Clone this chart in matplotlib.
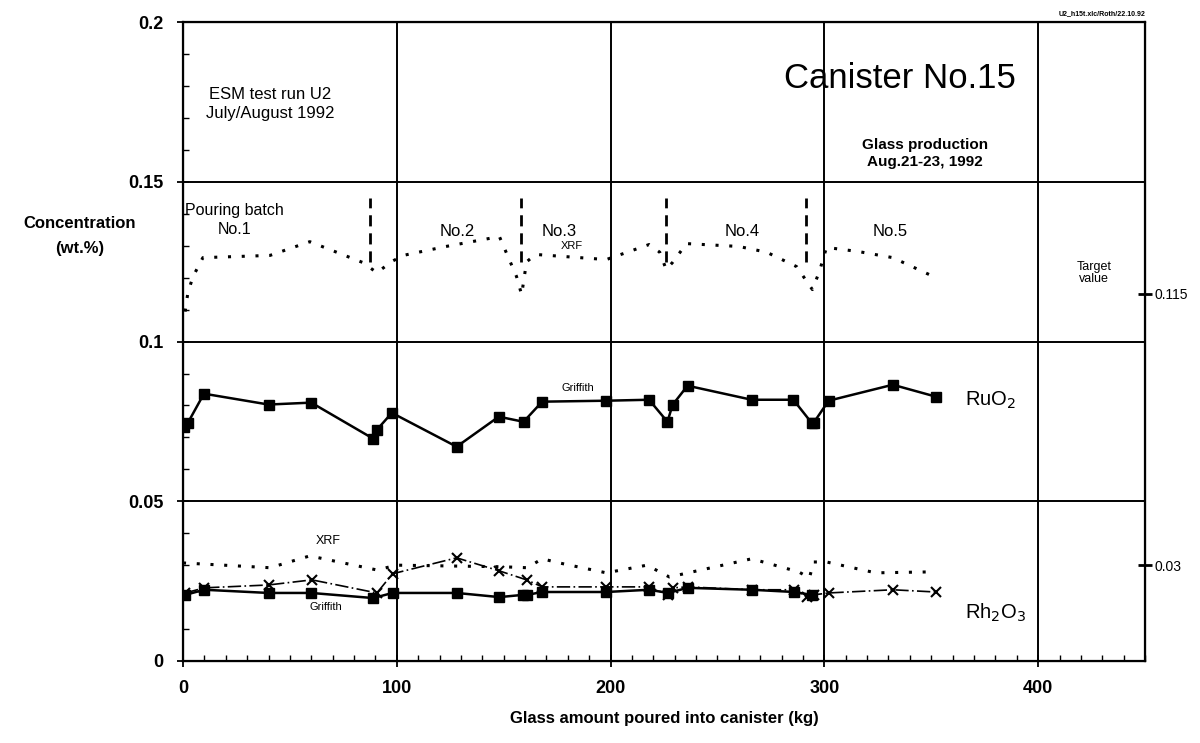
import matplotlib
matplotlib.use('Agg')
import matplotlib.pyplot as plt
from matplotlib.ticker import MultipleLocator

plt.rcParams['font.family'] = ['Liberation Sans', 'DejaVu Sans']

# RuO2, Griffith analysis (squares, solid)
ru_grif_x = [0.5, 2.3, 9.8, 40, 60, 89, 90.7, 97.7, 128, 147.7, 159.3, 168, 198, 218, 226.6, 229, 236, 266, 285.5, 294, 295, 302, 332, 352]
ru_grif_y = [0.0734, 0.0746, 0.0837, 0.0803, 0.0809, 0.0696, 0.0724, 0.0777, 0.0671, 0.0765, 0.0749, 0.0812, 0.0815, 0.0818, 0.0749, 0.0802, 0.0862, 0.0818, 0.0818, 0.0746, 0.0746, 0.0815, 0.0865, 0.0828]

# RuO2, XRF (dotted)
ru_xrf_x = [1, 2.3, 4.7, 9.3, 40.7, 59.3, 84, 90.7, 97.7, 103, 123, 148, 156, 158.4, 160.7, 165, 179.4, 198, 218, 223, 226, 229, 235.5, 260, 273, 287, 294.4, 297.7, 301, 316, 332, 351]
ru_xrf_y = [0.1094, 0.1154, 0.1204, 0.1263, 0.1270, 0.1313, 0.1248, 0.1216, 0.1251, 0.1270, 0.1298, 0.1329, 0.1204, 0.1147, 0.1250, 0.1273, 0.1266, 0.1257, 0.1304, 0.1280, 0.1226, 0.1248, 0.1307, 0.1298, 0.1280, 0.1235, 0.1163, 0.1220, 0.1295, 0.1282, 0.1263, 0.1204]

# Rh2O3, Griffith (squares, solid)
rh_grif_x = [1, 10, 40, 60, 89, 98, 128, 148, 159, 161, 168, 198, 218, 227, 236, 266, 286, 294]
rh_grif_y = [0.0207, 0.0223, 0.0213, 0.0213, 0.0197, 0.0213, 0.0213, 0.0200, 0.0207, 0.0207, 0.0216, 0.0216, 0.0223, 0.0213, 0.0229, 0.0223, 0.0216, 0.0207]

# Rh2O3, single samples (crosses, dash-dot)
rh_x_x = [1, 10, 40, 60.3, 90.7, 98, 128, 148, 160.7, 168, 198, 218, 227, 229, 236, 266, 286, 292, 295, 302, 332, 352]
rh_x_y = [0.0213, 0.0229, 0.0238, 0.0254, 0.0213, 0.0273, 0.0323, 0.0282, 0.0254, 0.0232, 0.0232, 0.0232, 0.0207, 0.0229, 0.0232, 0.0223, 0.0223, 0.0200, 0.0207, 0.0213, 0.0223, 0.0216]

# Rh2O3, XRF (dotted)
rh_xrf_x = [0, 40.7, 59.3, 90.7, 100, 149.5, 161, 168, 176, 198, 217, 227.5, 266, 288, 293, 295, 301, 324, 350]
rh_xrf_y = [0.0307, 0.0292, 0.0329, 0.0285, 0.0300, 0.0295, 0.0292, 0.0320, 0.0307, 0.0276, 0.0300, 0.0263, 0.0320, 0.0279, 0.0260, 0.0310, 0.0310, 0.0276, 0.0279]

# batch boundaries
batch_x = [87.4, 158, 225.7, 291.6]
batch_labels = ['No.2', 'No.3', 'No.4', 'No.5']
batch_label_x = [128.5, 176, 261.7, 331]

fig = plt.figure(figsize=(12, 7.43), dpi=100)
ax = fig.add_axes([0.1525, 0.1104, 0.8017, 0.8596])

ax.plot(ru_xrf_x, ru_xrf_y, color='black', ls=(0, (1, 3.5)), lw=2.2)
ax.plot(ru_grif_x, ru_grif_y, color='black', lw=1.8, marker='s', ms=7)
ax.plot(rh_xrf_x, rh_xrf_y, color='black', ls=(0, (1, 3.5)), lw=2.2)
ax.plot(rh_x_x, rh_x_y, color='black', lw=1.2, ls=(0, (8, 2, 1, 2)), marker='x', ms=7, mew=1.5)
ax.plot(rh_grif_x, rh_grif_y, color='black', lw=1.8, marker='s', ms=7)

for bx in batch_x:
    ax.plot([bx, bx], [0.125, 0.145], color='black', ls=(0, (4, 2.5)), lw=2)

ax.set_xlim(0, 450)
ax.set_ylim(0, 0.2)
ax.set_xticks([0, 100, 200, 300, 400])
ax.set_yticks([0, 0.05, 0.1, 0.15, 0.2])
ax.set_yticklabels(['0', '0.05', '0.1', '0.15', '0.2'])
ax.xaxis.set_minor_locator(MultipleLocator(10))
ax.yaxis.set_minor_locator(MultipleLocator(0.01))
ax.tick_params(which='major', direction='inout', length=8, width=1.3, labelsize=13, pad=10)
ax.tick_params(which='minor', direction='in', length=4, width=1)
for lab in ax.get_xticklabels() + ax.get_yticklabels():
    lab.set_fontweight('bold')
ax.grid(True, which='major', color='black', lw=1.4)
for s in ax.spines.values():
    s.set_linewidth(1.6)

# right-hand target values
ax2 = ax.twinx()
ax2.set_ylim(0, 0.2)
ax2.set_yticks([0.03, 0.115])
ax2.set_yticklabels(['0.03', '0.115'], fontsize=10)
ax2.tick_params(direction='inout', length=10, width=2, pad=2)

ax.set_xlabel('Glass amount poured into canister (kg)', fontsize=12, fontweight='bold', labelpad=10)
ax.text(-0.107, 0.665, 'Concentration\n(wt.%)', transform=ax.transAxes, ha='center', va='center',
        fontsize=12, fontweight='bold', linespacing=1.8)

ax.text(40.6, 0.1745, 'ESM test run U2\nJuly/August 1992', ha='center', va='center', fontsize=12, linespacing=1.3)
ax.text(281, 0.1825, 'Canister No.15', ha='left', va='center', fontsize=25)
ax.text(347, 0.159, 'Glass production\nAug.21-23, 1992', ha='center', va='center', fontsize=11,
        fontweight='bold', linespacing=1.25)
ax.text(24, 0.1382, 'Pouring batch\nNo.1', ha='center', va='center', fontsize=11.5, linespacing=1.35)
for lx, lt in zip(batch_label_x, batch_labels):
    ax.text(lx, 0.1345, lt, ha='center', va='center', fontsize=12)
ax.text(182, 0.1298, 'XRF', ha='center', va='center', fontsize=8)
ax.text(184.6, 0.0856, 'Griffith', ha='center', va='center', fontsize=8)
ax.text(366, 0.0815, 'RuO$_2$', ha='left', va='center', fontsize=14.5)
ax.text(68, 0.0375, 'XRF', ha='center', va='center', fontsize=9)
ax.text(67, 0.0168, 'Griffith', ha='center', va='center', fontsize=8)
ax.text(366, 0.0152, 'Rh$_2$O$_3$', ha='left', va='center', fontsize=14.5)
ax.text(426, 0.1215, 'Target\nvalue', ha='center', va='center', fontsize=9, linespacing=0.9)
ax.text(450, 0.2015, 'U2_h15t.xlc/Roth/22.10.92', ha='right', va='bottom', fontsize=5, fontweight='bold')

fig.savefig('out.png', dpi=100)
